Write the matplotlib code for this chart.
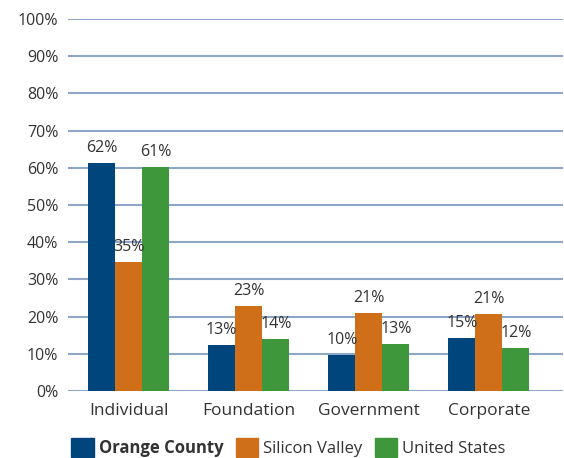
import numpy as np
import matplotlib.pyplot as plt
from matplotlib.patches import Patch

plt.rcParams['font.family'] = ['Open Sans', 'DejaVu Sans']

categories = ['Individual', 'Foundation', 'Government', 'Corporate']
series = ['Orange County', 'Silicon Valley', 'United States']
# bar heights as drawn (%), and the labels printed over them
orange_county = [61.3, 12.4, 9.8, 14.3]
silicon_valley = [34.7, 22.9, 21.0, 20.7]
united_states = [60.2, 14.0, 12.7, 11.6]
oc_labels = ['62%', '13%', '10%', '15%']
sv_labels = ['35%', '23%', '21%', '21%']
us_labels = ['61%', '14%', '13%', '12%']
colors = ['#00457c', '#d06f1a', '#3f973b']

fig = plt.figure(figsize=(5.64, 4.58), dpi=100)
ax = fig.add_axes([0.1206, 0.1463, 0.8774, 0.8122])

x = np.arange(len(categories))
w = 0.225
data = [orange_county, silicon_valley, united_states]
labels = [oc_labels, sv_labels, us_labels]
for k in range(3):
    xs = x + (k - 1) * w
    ax.bar(xs, data[k], width=w, color=colors[k], zorder=3)
    for xi, yi, lab in zip(xs, data[k], labels[k]):
        ax.annotate(lab, (xi, yi), xytext=(0, 15), textcoords='offset pixels',
                    ha='center', va='center', fontsize=11.5, color='#333333', zorder=4)

ax.set_xlim(-0.505, 3.616)
ax.set_ylim(0, 100)
ax.set_yticks(np.arange(0, 101, 10))
ax.set_yticklabels([f'{v}%' for v in range(0, 101, 10)])
ax.set_xticks(x)
ax.set_xticklabels(categories)
ax.tick_params(axis='y', length=0, pad=7, labelsize=11.5, labelcolor='#333333')
ax.tick_params(axis='x', length=0, pad=9, labelsize=12.5, labelcolor='#333333')
ax.grid(axis='y', color='#8ea6c8', linewidth=1.5, zorder=0)
for s in ax.spines.values():
    s.set_visible(False)

handles = [Patch(color=c) for c in colors]
leg = fig.legend(handles, series, loc='center left', bbox_to_anchor=(0.126, 0.022),
                 ncol=3, frameon=False, fontsize=12, handlelength=1.35, handleheight=1.35,
                 handletextpad=0.3, columnspacing=0.75, borderpad=0, borderaxespad=0)
for t in leg.get_texts():
    t.set_color('#333333')
leg.get_texts()[0].set_fontweight('bold')

fig.savefig('out.png', dpi=100)
